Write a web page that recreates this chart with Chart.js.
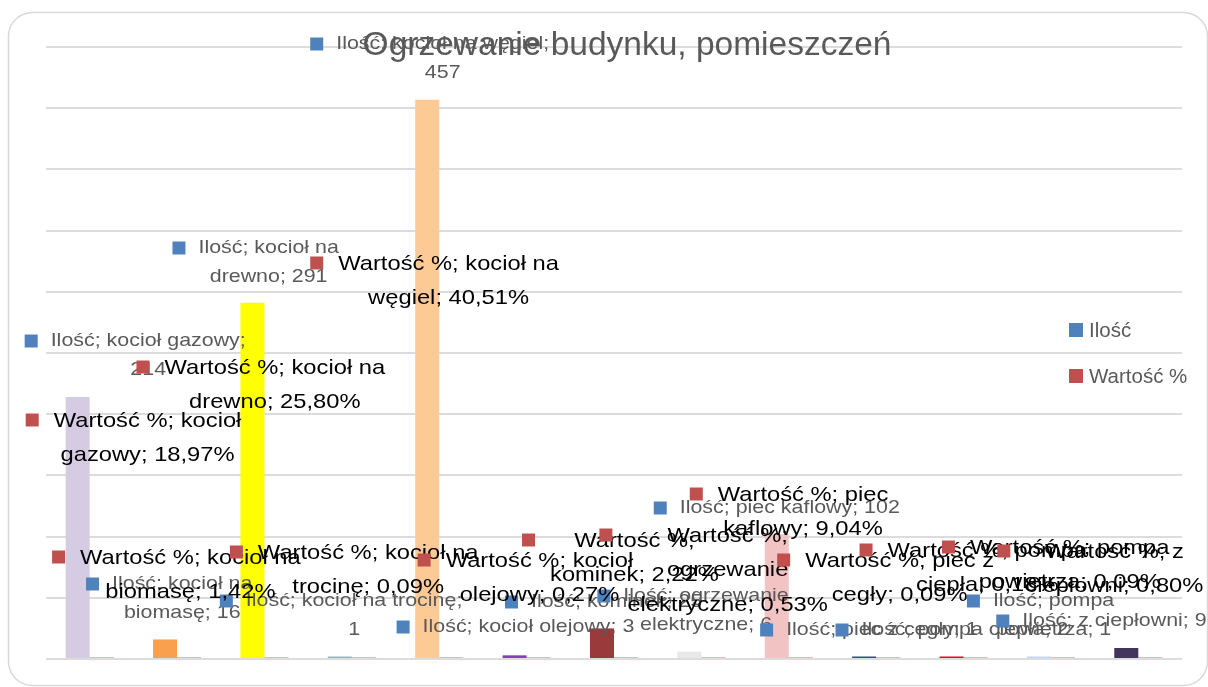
<!DOCTYPE html>
<html>
<head>
<meta charset="utf-8">
<script src="https://cdn.jsdelivr.net/npm/chart.js@4.4.1/dist/chart.umd.min.js"></script>
<style>
  html, body { margin: 0; padding: 0; background: #fff; overflow: hidden; }
  #wrap { position: relative; width: 1208px; height: 687px; }
</style>
</head>
<body>
<div id="wrap"><canvas id="chart" width="1208" height="687"></canvas></div>
<script>
// data
var chartTitle = 'Ogrzewanie budynku, pomieszczeń';
var seriesNames = ['Ilość', 'Wartość %'];
var categories = ['kocioł gazowy', 'kocioł na biomasę', 'kocioł na drewno', 'kocioł na trocinę',
  'kocioł na węgiel', 'kocioł olejowy', 'kominek', 'ogrzewanie elektryczne', 'piec kaflowy',
  'piec z cegły', 'pompa ciepła', 'pompa powietrza', 'z ciepłowni'];
var ilosc = [214, 16, 291, 1, 457, 3, 25, 6, 102, 1, 2, 1, 9];
var wartosc = [0.1897, 0.0142, 0.2580, 0.0009, 0.4051, 0.0027, 0.0222, 0.0053, 0.0904, 0.0009, 0.0018, 0.0009, 0.0080];
var yMin = 0, yMax = 500, yStep = 50;

// look
var barColors = ['#d5cce3', '#f9a04f', '#ffff00', '#95b3d7', '#fdc995', '#7f3fbf', '#9b3a3a',
  '#e8e8e8', '#f2c3c3', '#2f4f8c', '#ff0000', '#c0d6f2', '#42345a'];
var pctBarColor = '#e6b9b8';
var FONT = '"Liberation Sans", Arial, sans-serif';

// label placement: [marker x offset from its bar, marker centre y, word breaks]
var iloscLabelPos = [
  [-53, 341, [3]], [-79, 584, [3]], [-80, 248, [3]], [-120, 601, [4]], [-117, 44, [4]],
  [-118, 627, []], [-97, 602, []], [-92, 596, [2]], [-123, 508, []], [-104, 630, []],
  [-116, 630, []], [-72, 601, [2]], [-130, 621, []]
];
var wartoscLabelPos = [
  [-76, 420, [3]], [-137, 557, [4]], [-140, 367, [4]], [-134, 552, [4]], [-141, 263, [4]],
  [-121, 560, [3]], [-104, 540, [2]], [-114, 535, [2, 3]], [-111, 494, [3]], [-111, 560, [4]],
  [-116, 550, [3]], [-121, 547, [3]], [-153, 551, [3]]
];

var iloscStyle = { size: 17.7, sx: 1.21, color: '#595959', marker: '#4f81bd', box: 13, gap: 26, lh: 29.5, dy: 0 };
var wartoscStyle = { size: 21, sx: 1.13, color: '#000000', marker: '#c0504d', box: 13, gap: 28, lh: 34.5, dy: 1 };

function fmtPct(v) {
  return (v * 100).toFixed(2).replace('.', ',') + '%';
}

function splitLines(text, breaks) {
  var words = text.split(' ');
  var lines = [], start = 0;
  breaks.concat([words.length]).forEach(function (b) {
    if (b > start) {
      lines.push(words.slice(start, b).join(' '));
      start = b;
    }
  });
  return lines;
}

function drawLabel(ctx, mx, my, lines, st) {
  ctx.font = st.size + 'px ' + FONT;
  var w = 0;
  lines.forEach(function (l) { w = Math.max(w, ctx.measureText(l).width * st.sx); });
  ctx.fillStyle = st.marker;
  ctx.fillRect(mx, my - st.box / 2, st.box, st.box);
  var cx = mx + st.gap + w / 2;
  ctx.fillStyle = st.color;
  ctx.textAlign = 'center';
  ctx.textBaseline = 'middle';
  lines.forEach(function (l, i) {
    ctx.save();
    ctx.translate(cx, my + st.dy + i * st.lh);
    ctx.scale(st.sx, 1);
    ctx.fillText(l, 0, 0);
    ctx.restore();
  });
}

var excelLook = {
  id: 'excelLook',
  beforeDraw: function (chart) {
    var ctx = chart.ctx;
    ctx.save();
    ctx.fillStyle = '#ffffff';
    ctx.fillRect(0, 0, chart.width, chart.height);
    ctx.strokeStyle = '#d9d9d9';
    ctx.lineWidth = 1.5;
    ctx.beginPath();
    ctx.roundRect(8.5, 12.5, 1199, 673, 24);
    ctx.stroke();
    ctx.restore();
  },
  afterDatasetsDraw: function (chart) {
    var ctx = chart.ctx;
    var metaA = chart.getDatasetMeta(0);
    var metaB = chart.getDatasetMeta(1);
    ctx.save();
    categories.forEach(function (cat, i) {
      var p = iloscLabelPos[i];
      var txt = seriesNames[0] + '; ' + cat + '; ' + ilosc[i];
      drawLabel(ctx, metaA.data[i].x + p[0], p[1], splitLines(txt, p[2]), iloscStyle);
    });
    categories.forEach(function (cat, i) {
      var p = wartoscLabelPos[i];
      var txt = seriesNames[1] + '; ' + cat + '; ' + fmtPct(wartosc[i]);
      drawLabel(ctx, metaB.data[i].x + p[0], p[1], splitLines(txt, p[2]), wartoscStyle);
    });

    // title
    ctx.font = '33.5px ' + FONT;
    ctx.fillStyle = '#595959';
    ctx.textAlign = 'center';
    ctx.textBaseline = 'alphabetic';
    ctx.fillText(chartTitle, 627, 55);

    // legend
    var legColors = [iloscStyle.marker, wartoscStyle.marker];
    var legY = [330, 376];
    ctx.font = '20.5px ' + FONT;
    ctx.textAlign = 'left';
    ctx.textBaseline = 'middle';
    seriesNames.forEach(function (n, k) {
      ctx.fillStyle = legColors[k];
      ctx.fillRect(1069, legY[k] - 7, 14, 14);
      ctx.fillStyle = '#595959';
      ctx.fillText(n, 1089, legY[k] + 1);
    });
    ctx.restore();
  }
};

var ctx = document.getElementById('chart').getContext('2d');
var myChart = new Chart(ctx, {
  type: 'bar',
  data: {
    labels: categories,
    datasets: [{
      label: seriesNames[0],
      data: ilosc,
      backgroundColor: barColors,
      borderWidth: 0,
      minBarLength: 2.5,
      categoryPercentage: 0.55,
      barPercentage: 1.0
    }, {
      label: seriesNames[1],
      data: wartosc,
      backgroundColor: pctBarColor,
      borderWidth: 0,
      minBarLength: 2,
      categoryPercentage: 0.55,
      barPercentage: 1.0
    }]
  },
  options: {
    responsive: false,
    animation: false,
    layout: { padding: { left: 46, right: 26, top: 47, bottom: 28 } },
    plugins: {
      legend: { display: false },
      title: { display: false },
      tooltip: { enabled: false }
    },
    scales: {
      x: { display: false },
      y: {
        min: yMin,
        max: yMax,
        ticks: { stepSize: yStep, display: false },
        grid: { color: '#dcdcdc', lineWidth: 2, drawTicks: false },
        border: { display: false }
      }
    }
  },
  plugins: [excelLook]
});
</script>
</body>
</html>
